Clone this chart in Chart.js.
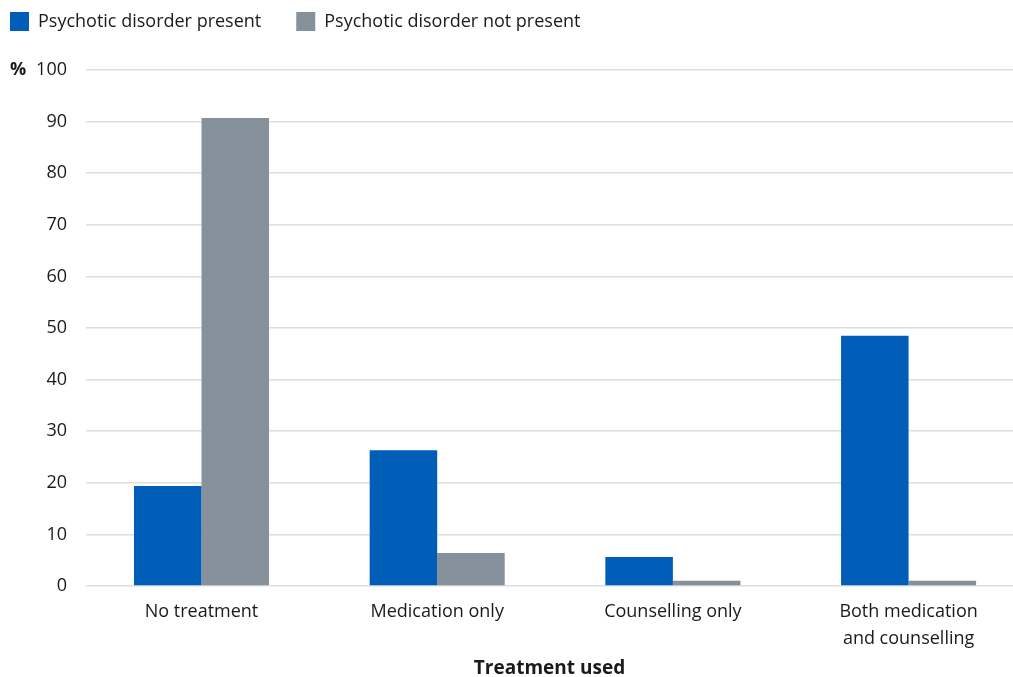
<!DOCTYPE html>
<html>
<head>
<meta charset="utf-8">
<script src="https://cdn.jsdelivr.net/npm/chart.js@4"></script>
<style>
  html, body { margin: 0; padding: 0; background: #ffffff; overflow: hidden; }
  #wrap { width: 1013px; height: 677px; position: relative; }
</style>
</head>
<body>
<div id="wrap"><canvas id="c" width="1013" height="677"></canvas></div>
<script>
const categories = ["No treatment", "Medication only", "Counselling only", ["Both medication", "and counselling"]];
const presentValues = [19.4, 26.3, 5.6, 48.5];
const notPresentValues = [90.7, 6.4, 1.0, 1.0];
const seriesLabels = ["Psychotic disorder present", "Psychotic disorder not present"];
const yTicks = [0, 10, 20, 30, 40, 50, 60, 70, 80, 90, 100];

const FONT = "'Open Sans', 'Noto Sans', sans-serif";
const TEXT = '#1a1a1a';

const percentLabel = {
  id: 'percentLabel',
  afterDraw(chart) {
    const y = chart.scales.y;
    const ctx = chart.ctx;
    ctx.save();
    ctx.font = 'bold 18px ' + FONT;
    ctx.fillStyle = TEXT;
    ctx.textAlign = 'left';
    ctx.textBaseline = 'middle';
    ctx.fillText('%', 10, y.getPixelForValue(yTicks[yTicks.length - 1]));
    ctx.restore();
  }
};

const toPoints = arr => arr.map((v, i) => ({ x: i, y: v }));

new Chart(document.getElementById('c'), {
  type: 'bar',
  data: {
    datasets: [
      { label: seriesLabels[0], data: toPoints(presentValues), backgroundColor: '#005EB8', borderWidth: 0 },
      { label: seriesLabels[1], data: toPoints(notPresentValues), backgroundColor: '#86919B', borderWidth: 0 }
    ]
  },
  options: {
    responsive: false,
    animation: false,
    categoryPercentage: 0.573,
    barPercentage: 1.0,
    layout: { padding: { top: -23, left: -25, right: 0, bottom: 0 } },
    plugins: {
      tooltip: { enabled: false },
      legend: {
        position: 'top',
        align: 'start',
        labels: {
          boxWidth: 19,
          boxHeight: 19,
          padding: 35,
          color: TEXT,
          font: { family: FONT, size: 18 }
        }
      }
    },
    scales: {
      x: {
        type: 'linear',
        offset: false,
        min: -0.49,
        max: 3.443,
        afterBuildTicks: s => { s.ticks = categories.map((c, i) => ({ value: i })); },
        afterFit: s => { s.height = 91; },
        grid: { display: false },
        border: { display: false },
        ticks: {
          color: TEXT,
          font: { family: FONT, size: 18, lineHeight: 1.5 },
          padding: 4,
          autoSkip: false,
          maxRotation: 0,
          callback: v => categories[v]
        },
        title: {
          display: true,
          text: 'Treatment used',
          color: TEXT,
          font: { family: FONT, size: 19, weight: 'bold' },
          padding: { top: 4, bottom: -3 }
        }
      },
      spacer: {
        type: 'linear',
        position: 'top',
        display: true,
        afterFit: s => { s.height = 29; },
        grid: { display: false },
        border: { display: false },
        ticks: { display: false }
      },
      y: {
        min: 0,
        max: 100,
        afterBuildTicks: s => { s.ticks = yTicks.map(v => ({ value: v })); },
        afterFit: s => { s.width = 111; },
        grid: { color: '#dcdfe0', lineWidth: 1.5, drawTicks: false },
        border: { display: false },
        ticks: {
          color: TEXT,
          font: { family: FONT, size: 18 },
          padding: 19
        }
      }
    }
  },
  plugins: [percentLabel]
});
</script>
</body>
</html>
